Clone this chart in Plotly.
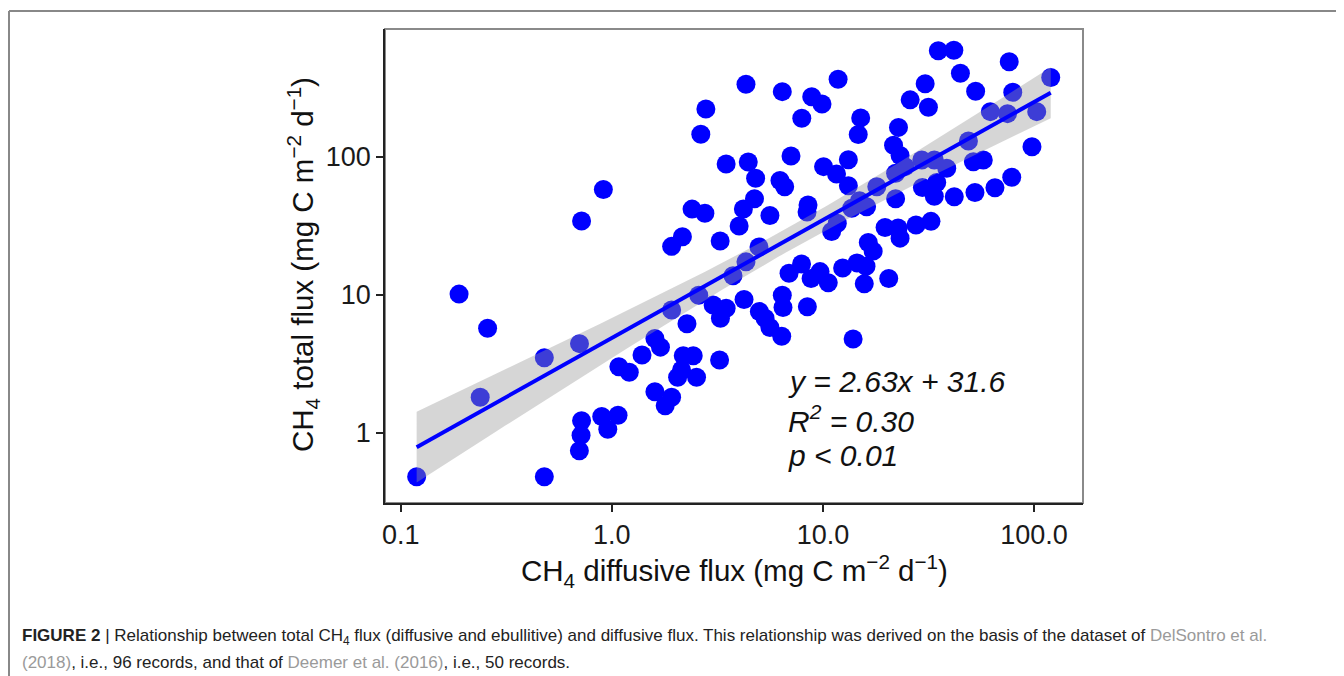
import numpy as np
import plotly.graph_objects as go

# CH4 diffusive flux (x) and total flux (y), mg C m-2 d-1
diffusive = [
    0.119, 0.189, 0.258, 0.238, 0.479, 0.479, 0.703, 0.719, 0.912, 0.719,
    0.715, 0.702, 0.896, 0.957, 1.07, 1.08, 1.21, 1.39, 1.60, 1.70,
    1.60, 1.79, 1.92, 1.92, 2.27, 2.18, 2.43, 2.05, 2.14, 2.52,
    2.58, 1.92, 2.16, 2.40, 2.76, 2.64, 2.79, 3.02, 3.27, 3.48,
    3.24, 3.75, 4.23, 3.26, 3.48, 4.43, 4.80, 4.32, 4.01, 4.20,
    4.74, 5.61, 4.98, 4.32, 5.00, 5.32, 5.61, 6.38, 6.42, 6.47,
    8.44, 6.91, 7.92, 8.79, 9.69, 10.6, 6.26, 6.59, 7.06, 6.42,
    7.94, 8.85, 9.90, 8.50, 8.41, 10.07, 11.6, 11.0, 11.7, 12.4,
    11.8, 13.2, 13.2, 14.7, 15.1, 22.8, 21.6, 23.2, 25.9, 30.5,
    31.6, 35.2, 41.7, 44.8, 52.9, 76.3, 79.3, 120.0, 62.1, 74.9,
    103.0, 48.9, 97.8, 18.0, 22.1, 24.5, 29.4, 33.7, 38.6, 29.6,
    34.6, 33.7, 41.9, 52.5, 65.3, 78.4, 51.6, 57.5, 22.1, 14.9,
    16.1, 13.7, 19.7, 22.7, 23.2, 27.6, 32.5, 16.4, 17.3, 14.5,
    16.0, 15.7, 20.5, 13.9,
]
total = [
    0.48, 10.1, 5.71, 1.81, 3.49, 0.48, 4.42, 34.2, 57.8, 1.22,
    0.96, 0.74, 1.31, 1.06, 1.34, 3.01, 2.74, 3.66, 4.81, 4.17,
    1.98, 1.57, 1.81, 7.75, 6.17, 3.61, 3.61, 2.52, 2.85, 2.52,
    9.9, 22.4, 26.3, 41.7, 38.9, 145.6, 221.6, 8.42, 6.75, 7.97,
    3.36, 13.7, 9.23, 24.5, 88.5, 91.6, 69.7, 335.0, 31.5, 41.8,
    49.6, 37.5, 22.2, 17.3, 7.55, 6.75, 5.78, 5.0, 9.9, 8.08,
    8.19, 14.3, 16.7, 13.1, 14.7, 12.2, 67.3, 60.6, 101.0, 296.0,
    190.0, 272.0, 241.0, 44.7, 39.7, 84.7, 75.0, 28.7, 32.9, 15.6,
    364.0, 95.1, 61.5, 145.0, 191.0, 163.0, 121.0, 102.0, 258.0, 338.0,
    228.0, 585.0, 590.0, 402.0, 298.0, 488.0, 293.0, 375.0, 212.0, 205.0,
    212.0, 130.0, 118.0, 60.6, 75.8, 84.7, 94.6, 94.6, 82.4, 59.8,
    65.0, 51.6, 51.3, 55.0, 59.6, 70.9, 92.0, 94.6, 49.5, 47.9,
    43.4, 42.3, 30.7, 30.4, 25.7, 32.0, 34.0, 23.9, 20.7, 17.0,
    16.1, 12.0, 13.1, 4.78,
]

x_tickvals = [0.1, 1, 10, 100]
x_ticktext = ["0.1", "1.0", "10.0", "100.0"]
y_tickvals = [1, 10, 100]
y_ticktext = ["1", "10", "100"]

# log-log least squares fit with 95% confidence band
lx = np.log10(np.array(diffusive))
ly = np.log10(np.array(total))
n = len(lx)
slope, intercept = np.polyfit(lx, ly, 1)
resid = ly - (slope * lx + intercept)
s = np.sqrt(np.sum(resid ** 2) / (n - 2))
sxx = np.sum((lx - lx.mean()) ** 2)
t_crit = 1.977
grid = np.linspace(lx.min(), lx.max(), 80)
fit = slope * grid + intercept
se = s * np.sqrt(1.0 / n + (grid - lx.mean()) ** 2 / sxx)
upper = fit + t_crit * se
lower = fit - t_crit * se

fig = go.Figure()
fig.add_trace(go.Scatter(
    x=diffusive, y=total, mode="markers",
    marker=dict(color="#0000ff", size=19, line=dict(width=0)),
    hoverinfo="skip", showlegend=False,
))
band_x = np.concatenate([10 ** grid, (10 ** grid)[::-1]])
band_y = np.concatenate([10 ** upper, (10 ** lower)[::-1]])
fig.add_trace(go.Scatter(
    x=band_x, y=band_y, mode="lines", fill="toself",
    fillcolor="rgba(153,153,153,0.4)", line=dict(width=0),
    hoverinfo="skip", showlegend=False,
))
fig.add_trace(go.Scatter(
    x=10 ** grid, y=10 ** fit, mode="lines",
    line=dict(color="#0000ff", width=4),
    hoverinfo="skip", showlegend=False,
))

OFF = 8  # page body margin
SW, SH = 1344, 676
W, H = SW - OFF, SH - OFF
# plot box in screen pixels
L, R, T, B = 385, 1083, 29, 503
pw, ph = R - L, B - T


def px(x):
    return (x - L) / pw


def py(y):
    return (B - y) / ph


axis_common = dict(
    type="log", showgrid=False, zeroline=False,
    showline=True, linecolor="#222", linewidth=1.5,
    ticks="outside", ticklen=7, tickwidth=1.5, tickcolor="#222",
    tickfont=dict(family="Liberation Sans, Arial, sans-serif", size=27, color="#1a1a1a"),
)
fig.update_layout(
    width=W, height=H,
    margin=dict(l=L - OFF, r=SW - R, t=T - OFF, b=SH - B),
    paper_bgcolor="white", plot_bgcolor="white",
    xaxis=dict(range=[-1.0744, 2.232], tickvals=x_tickvals, ticktext=x_ticktext, **axis_common),
    yaxis=dict(range=[-0.509, 2.925], tickvals=y_tickvals, ticktext=y_ticktext, **axis_common),
    font=dict(family="Liberation Sans, Arial, sans-serif"),
)

# plot box (top/right in grey) and figure frame
fig.add_shape(type="rect", xref="paper", yref="paper", x0=0, y0=0, x1=1, y1=1,
              line=dict(color="#8a8a8a", width=2), layer="below")
fig.add_shape(type="line", xref="paper", yref="paper",
              x0=px(9), y0=py(11), x1=px(9), y1=py(680), line=dict(color="#888", width=2))
fig.add_shape(type="line", xref="paper", yref="paper",
              x0=px(9), y0=py(11), x1=px(1350), y1=py(11), line=dict(color="#888", width=2))

txt = dict(family="Liberation Sans, Arial, sans-serif", size=30, color="#111")
for label, yy in [("<i>y = 2.63x + 31.6</i>", 381.7),
                  ("<i>R<sup>2</sup> = 0.30</i>", 418.5),
                  ("<i>p < 0.01</i>", 455)]:
    fig.add_annotation(text=label, xref="paper", yref="paper", x=px(786), y=py(yy),
                       xanchor="left", yanchor="middle", showarrow=False, font=txt)

title_font = dict(family="Liberation Sans, Arial, sans-serif", size=29.5, color="#111")
fig.add_annotation(text="CH<sub>4</sub> diffusive flux (mg C m<sup>−2</sup> d<sup>−1</sup>)",
                   xref="paper", yref="paper", x=px(734), y=py(571),
                   xanchor="center", yanchor="middle", showarrow=False, font=title_font)
fig.add_annotation(text="CH<sub>4</sub> total flux (mg C m<sup>−2</sup> d<sup>−1</sup>)",
                   xref="paper", yref="paper", x=px(303), y=py(265), textangle=-90,
                   xanchor="center", yanchor="middle", showarrow=False, font=title_font)

cap_font = dict(family="Liberation Sans, Arial, sans-serif", size=17, color="#222")
link = "#9a9a9a"
cap1 = ("<b>FIGURE 2</b> | Relationship between total CH<sub>4</sub> flux (diffusive and ebullitive) "
        "and diffusive flux. This relationship was derived on the basis of the dataset of "
        f"<span style='color:{link}'>DelSontro et al.</span>")
cap2 = (f"<span style='color:{link}'>(2018)</span>, i.e., 96 records, and that of "
        f"<span style='color:{link}'>Deemer et al. (2016)</span>, i.e., 50 records.")
fig.add_annotation(text=cap1, xref="paper", yref="paper", x=px(20), y=py(637),
                   xanchor="left", yanchor="middle", showarrow=False, font=cap_font)
fig.add_annotation(text=cap2, xref="paper", yref="paper", x=px(20), y=py(662),
                   xanchor="left", yanchor="middle", showarrow=False, font=cap_font)

fig.write_html("out.html")
